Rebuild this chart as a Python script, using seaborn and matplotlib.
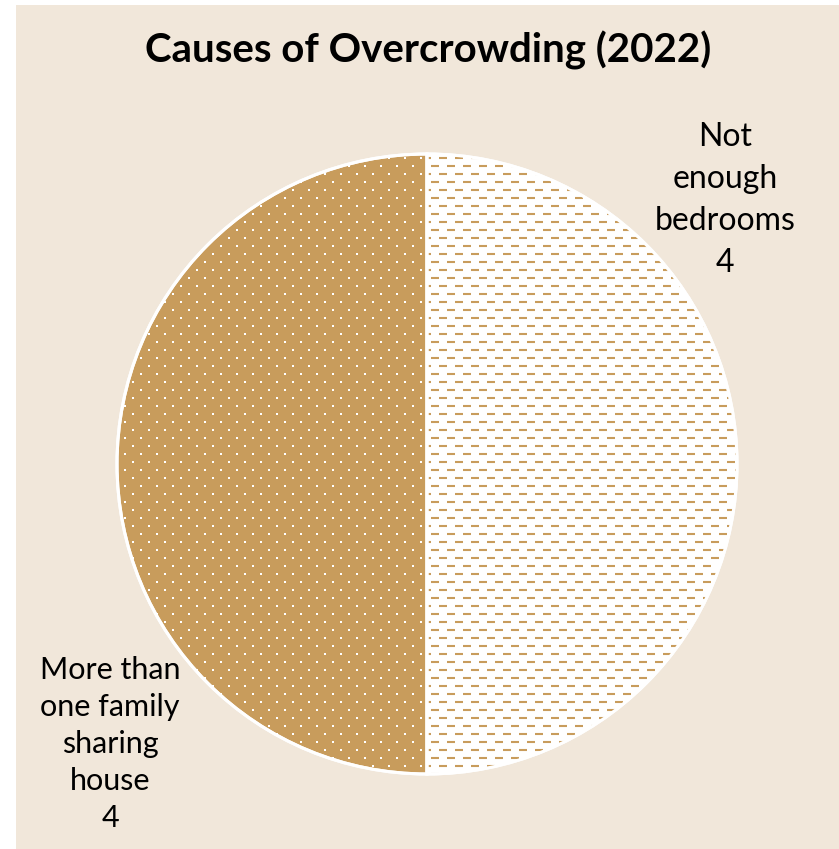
import numpy as np
import matplotlib
matplotlib.use("Agg")
import matplotlib.pyplot as plt
from matplotlib.patches import Rectangle, Wedge
from matplotlib.collections import LineCollection
import seaborn as sns

# Data
causes = ["Not enough bedrooms", "More than one family sharing house"]
label_lines = ["Not\nenough\nbedrooms", "More than\none family\nsharing\nhouse"]
counts = [4, 4]
title = "Causes of Overcrowding (2022)"

sns.set_theme(style="white")
plt.rcParams["font.family"] = ["Lato", "DejaVu Sans"]

TAN = "#C89C5C"
BEIGE = "#F1E7DA"
W, H = 839, 849

fig = plt.figure(figsize=(W / 100, H / 100), dpi=100, facecolor="white")
fig.patches.append(Rectangle((16 / W, 0), 1, 1 - 5 / H, transform=fig.transFigure,
                             facecolor=BEIGE, edgecolor="none", zorder=-5))

ax = fig.add_axes([0, 0, 1, 1])
ax.set_zorder(2)
ax.patch.set_alpha(0)

cx, cy, r = 427, H - 464, 310
wedges, _ = ax.pie(counts, startangle=90, counterclock=False, radius=r, center=(cx, cy),
                   colors=["white", TAN], wedgeprops=dict(edgecolor="white", linewidth=2.2))
ax.set_xlim(0, W)
ax.set_ylim(0, H)
ax.set_aspect("equal")
ax.axis("off")

# Dashed texture on the first slice
rows = np.arange(cy - r - 8, cy + r + 8, 8)
segs = []
for i, yy in enumerate(rows):
    off = 0 if i % 2 == 0 else 8
    for xx in np.arange(cx - 4 + off, cx + r + 16, 16):
        segs.append([(xx, yy), (xx + 8, yy)])
lc = LineCollection(segs, colors=TAN, linewidths=1.5, capstyle="butt", zorder=3)
ax.add_collection(lc)
lc.set_clip_path(wedges[0])

# Dotted texture on the second slice
pts = []
for i, yy in enumerate(rows):
    off = 0 if i % 2 == 0 else 8
    for xx in np.arange(cx - 6 - off, cx - r - 16, -16):
        pts.append((xx, yy))
pts = np.array(pts)
sc = ax.scatter(pts[:, 0], pts[:, 1], s=2.2, marker="s", color="white", linewidths=0, zorder=3)
sc.set_clip_path(wedges[1])

# Re-draw slice outlines over the textures
for w in wedges:
    ax.add_patch(Wedge((cx, cy), r, w.theta1, w.theta2, facecolor="none",
                       edgecolor="white", linewidth=2.2, zorder=4))

ax.text(725, H - 200, f"{label_lines[0]}\n{counts[0]}", ha="center", va="center",
        fontsize=23, color="black", linespacing=1.5)
ax.text(110, H - 744, f"{label_lines[1]}\n{counts[1]}", ha="center", va="center",
        fontsize=22, color="black", linespacing=1.4)

ax.text(428, H - 50, title, ha="center", va="center", fontsize=29, fontweight="bold",
        color="black")

fig.savefig("out.png", dpi=100, facecolor="white")
